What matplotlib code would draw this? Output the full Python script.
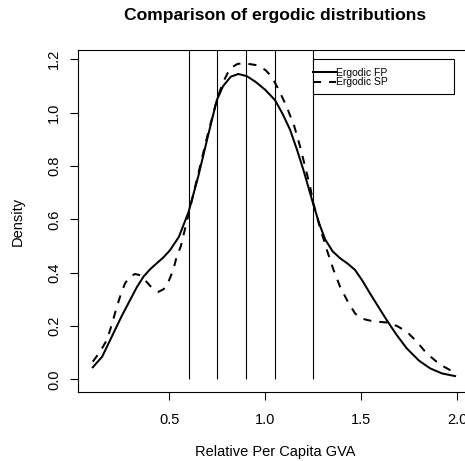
import numpy as np
import matplotlib
matplotlib.use("Agg")
import matplotlib.pyplot as plt
import matplotlib.patches as patches

plt.rcParams['font.family'] = ['Liberation Sans', 'DejaVu Sans']

# density estimates
fp_x = [0.101, 0.15, 0.208, 0.25, 0.295, 0.33, 0.365, 0.40, 0.434, 0.47, 0.504, 0.55,
        0.60, 0.65, 0.70, 0.747, 0.78, 0.82, 0.859, 0.903, 0.95, 1.00, 1.05, 1.09,
        1.129, 1.165, 1.198, 1.25, 1.28, 1.311, 1.35, 1.389, 1.43, 1.467, 1.505, 1.545,
        1.59, 1.632, 1.68, 1.736, 1.80, 1.858, 1.92, 1.988]
fp_y = [0.045, 0.085, 0.172, 0.235, 0.297, 0.345, 0.385, 0.413, 0.435, 0.458, 0.485, 0.535,
        0.628, 0.76, 0.91, 1.047, 1.10, 1.135, 1.145, 1.137, 1.115, 1.085, 1.047, 0.995,
        0.935, 0.86, 0.785, 0.655, 0.585, 0.525, 0.48, 0.454, 0.433, 0.41, 0.37, 0.322,
        0.27, 0.222, 0.17, 0.116, 0.07, 0.041, 0.022, 0.012]

sp_x = [0.101, 0.14, 0.174, 0.20, 0.226, 0.25, 0.269, 0.295, 0.321, 0.35, 0.373, 0.40,
        0.443, 0.47, 0.495, 0.52, 0.538, 0.56, 0.60, 0.65, 0.70, 0.75, 0.78, 0.816,
        0.855, 0.894, 0.955, 1.00, 1.033, 1.07, 1.111, 1.15, 1.181, 1.233, 1.25, 1.28,
        1.32, 1.355, 1.389, 1.43, 1.467, 1.50, 1.545, 1.60, 1.649, 1.69, 1.736, 1.79,
        1.84, 1.91, 1.979]
sp_y = [0.066, 0.105, 0.147, 0.205, 0.272, 0.325, 0.36, 0.385, 0.395, 0.39, 0.372, 0.35,
        0.328, 0.338, 0.366, 0.41, 0.46, 0.50, 0.62, 0.77, 0.92, 1.055, 1.115, 1.166,
        1.183, 1.185, 1.178, 1.16, 1.135, 1.085, 1.022, 0.95, 0.872, 0.722, 0.66, 0.58,
        0.485, 0.41, 0.347, 0.29, 0.247, 0.228, 0.22, 0.215, 0.212, 0.198, 0.179, 0.14,
        0.097, 0.055, 0.028]

cuts = [0.6, 0.75, 0.9, 1.05, 1.25]
labels = ['Ergodic FP', 'Ergodic SP']

fig = plt.figure(figsize=(4.65, 4.61), dpi=100, facecolor='white')
# plot region runs past the right edge, as in the original
ax = fig.add_axes([78 / 465, 69 / 461, 394 / 465, 342 / 461])

ax.plot(fp_x, fp_y, color='black', lw=1.45, label=labels[0])
ax.plot(sp_x, sp_y, color='black', lw=1.45, dashes=(4, 4), label=labels[1])
ax.vlines(cuts, 0, 1.4, color='black', lw=0.8)

ax.set_xlim(0.024, 2.076)
ax.set_ylim(-0.0476, 1.235)
ax.set_xticks([0.5, 1.0, 1.5, 2.0])
ax.set_yticks([0.0, 0.2, 0.4, 0.6, 0.8, 1.0, 1.2])
ax.set_yticklabels(['0.0', '0.2', '0.4', '0.6', '0.8', '1.0', '1.2'])
ax.tick_params(direction='out', length=5.8, width=0.8, labelsize=10.5)
ax.tick_params(axis='x', pad=9)
ax.tick_params(axis='y', pad=6.5, labelrotation=90)
for t in ax.get_yticklabels():
    t.set_va('center')
for s in ax.spines.values():
    s.set_linewidth(0.8)

ax.set_xlabel('Relative Per Capita GVA', fontsize=10.5)
ax.xaxis.set_label_coords(0.5, -0.175)
ax.xaxis.label.set_va('center')
ax.set_ylabel('Density', fontsize=10.5)
ax.yaxis.set_label_coords(-0.152, 0.5)
ax.yaxis.label.set_va('center')
ax.set_title('Comparison of ergodic distributions', fontweight='bold', fontsize=12.6,
             y=1.102, va='center', pad=0)

# R style legend: box anchored at (1.25, 1.2), entries hugging its left edge
leg_x, leg_top, leg_w, leg_h = 1.25, 1.2, 0.734, 0.13
ax.add_patch(patches.Rectangle((leg_x, leg_top - leg_h), leg_w, leg_h, fill=True,
                               facecolor='white', edgecolor='black', lw=0.8, zorder=4))
leg = ax.legend(loc='upper left', bbox_to_anchor=(leg_x, 1.169),
                bbox_transform=ax.transData, borderaxespad=0, borderpad=0,
                fontsize=7.5, handlelength=2.15, handletextpad=0.05, labelspacing=-0.02,
                frameon=False)
leg.set_zorder(5)

fig.savefig('out.png', dpi=100)
